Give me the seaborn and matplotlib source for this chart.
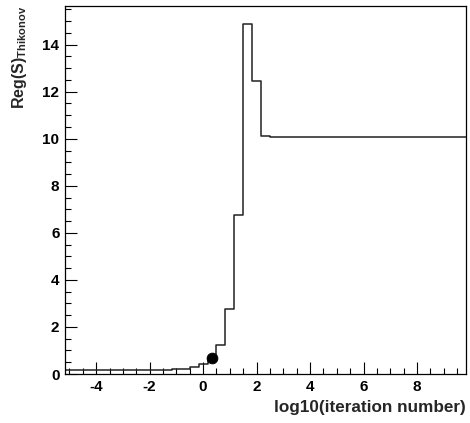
import numpy as np
import pandas as pd
import matplotlib
matplotlib.use("Agg")
import matplotlib.pyplot as plt
import seaborn as sns
from matplotlib.ticker import MultipleLocator

# Regularisation term per log10(iteration number) bin (bin width 1/3)
bin_centers = [
    -5.0, -4.667, -4.333, -4.0, -3.667, -3.333, -3.0, -2.667, -2.333, -2.0,
    -1.667, -1.333, -1.0, -0.667, -0.333, 0.0, 0.333, 0.667, 1.0, 1.333,
    1.667, 2.0, 2.333, 2.667, 3.0, 3.333, 3.667, 4.0, 4.333, 4.667,
    5.0, 5.333, 5.667, 6.0, 6.333, 6.667, 7.0, 7.333, 7.667, 8.0,
    8.333, 8.667, 9.0, 9.333, 9.667,
]
reg_values = [
    0.17, 0.17, 0.17, 0.17, 0.17, 0.17, 0.17, 0.17, 0.17, 0.17,
    0.17, 0.18, 0.21, 0.22, 0.29, 0.41, 0.68, 1.23, 2.75, 6.75,
    14.9, 12.45, 10.13, 10.08, 10.08, 10.08, 10.08, 10.08, 10.08, 10.08,
    10.08, 10.08, 10.08, 10.08, 10.08, 10.08, 10.08, 10.08, 10.08, 10.08,
    10.08, 10.08, 10.08, 10.08, 10.08,
]
# Selected point
best_x = [0.333]
best_y = [0.68]

x_major = [-4, -2, 0, 2, 4, 6, 8]
y_major = [0, 2, 4, 6, 8, 10, 12, 14]

sns.set_theme(style="white")
plt.rcParams["font.family"] = ["Liberation Sans", "DejaVu Sans"]
plt.rcParams["font.weight"] = "bold"
plt.rcParams["axes.unicode_minus"] = False
plt.rcParams["mathtext.fontset"] = "custom"
plt.rcParams["mathtext.rm"] = "Liberation Sans:bold"
plt.rcParams["mathtext.bf"] = "Liberation Sans:bold"
plt.rcParams["mathtext.it"] = "Liberation Sans:bold"

df = pd.DataFrame({"x": bin_centers, "reg": reg_values})
edges = [e / 6.0 for e in range(-31, 60, 2)]

fig = plt.figure(figsize=(4.70, 4.23), dpi=100)
ax = fig.add_axes([65 / 470, 1 - 374 / 423, (466 - 65) / 470, (374 - 6) / 423])

sns.histplot(data=df, x="x", weights="reg", bins=edges, element="step",
             fill=False, color="#222222", linewidth=1.1, ax=ax)
sns.scatterplot(x=best_x, y=best_y, ax=ax, color="black", s=60,
                edgecolor="black", zorder=5)

ax.set_xlim(edges[0], edges[-1])
ax.set_ylim(0, 1.05 * max(reg_values))

ax.set_xticks(x_major)
ax.set_yticks(y_major)
ax.xaxis.set_minor_locator(MultipleLocator(0.5))
ax.yaxis.set_minor_locator(MultipleLocator(0.5))
ax.tick_params(axis="both", which="both", direction="in", colors="black",
               labelsize=11, bottom=True, left=True, top=False, right=False)
ax.tick_params(axis="both", which="major", length=8.5, width=0.8, pad=4)
ax.tick_params(axis="both", which="minor", length=4.3, width=0.8)
for lab in ax.get_xticklabels() + ax.get_yticklabels():
    lab.set_fontweight("bold")

for s in ax.spines.values():
    s.set_color("black")
    s.set_linewidth(0.9)

ax.set_xlabel("log10(iteration number)", fontsize=12.3, fontweight="bold",
              loc="right", labelpad=4.5)
ax.set_ylabel(r"Reg(S)$_{\mathrm{Thikonov}}$", fontsize=11.5, fontweight="bold",
              loc="top", labelpad=9.5)

fig.savefig("out.png", dpi=100, facecolor="white")
